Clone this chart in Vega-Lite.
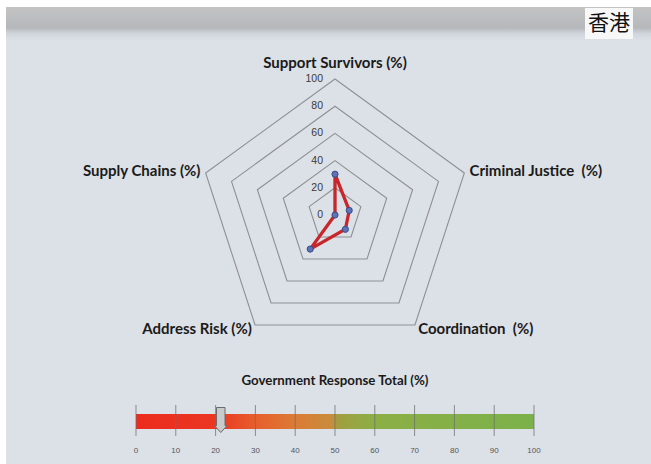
{
  "$schema": "https://vega.github.io/schema/vega-lite/v6.json",
  "width": 651,
  "height": 464,
  "autosize": {"type": "fit", "contains": "padding"},
  "padding": 0,
  "background": "#ffffff",
  "config": {"view": {"stroke": null}, "text": {"font": "Lato"}},
  "datasets": {
    "radar": [
      {"category": "Support Survivors (%)", "idx": 0, "value": 30},
      {"category": "Criminal Justice\u00a0 (%)", "idx": 1, "value": 11},
      {"category": "Coordination\u00a0 (%)", "idx": 2, "value": 13},
      {"category": "Address Risk (%)", "idx": 3, "value": 31},
      {"category": "Supply Chains (%)", "idx": 4, "value": 0}
    ],
    "rings": [
      {"level": 20, "k": [0, 1, 2, 3, 4]},
      {"level": 40, "k": [0, 1, 2, 3, 4]},
      {"level": 60, "k": [0, 1, 2, 3, 4]},
      {"level": 80, "k": [0, 1, 2, 3, 4]},
      {"level": 100, "k": [0, 1, 2, 3, 4]}
    ],
    "levels": [
      {"level": 0}, {"level": 20}, {"level": 40}, {"level": 60}, {"level": 80}, {"level": 100}
    ],
    "gaugeTicks": [
      {"v": 0}, {"v": 10}, {"v": 20}, {"v": 30}, {"v": 40}, {"v": 50},
      {"v": 60}, {"v": 70}, {"v": 80}, {"v": 90}, {"v": 100}
    ],
    "total": [{"label": "Government Response Total (%)", "value": 21.3}],
    "region": [{"name": "香港"}]
  },
  "layer": [
    {
      "data": {"name": "region"},
      "layer": [
        {
          "mark": {
            "type": "rect",
            "fill": {
              "gradient": "linear", "x1": 0, "y1": 0, "x2": 0, "y2": 1,
              "stops": [
                {"offset": 0, "color": "#ffffff"},
                {"offset": 0.015, "color": "#ffffff"},
                {"offset": 0.016, "color": "#c3c3c3"},
                {"offset": 0.06, "color": "#b6b8bb"},
                {"offset": 0.072, "color": "#d0d4db"},
                {"offset": 0.088, "color": "#dce0e7"},
                {"offset": 1, "color": "#dce0e7"}
              ]
            }
          },
          "encoding": {
            "x": {"datum": 6, "type": "quantitative", "scale": {"domain": [0, 651], "nice": false, "zero": false}, "axis": null},
            "x2": {"datum": 651},
            "y": {"datum": 0, "type": "quantitative", "scale": {"domain": [0, 464], "reverse": true, "nice": false, "zero": false}, "axis": null},
            "y2": {"datum": 464}
          }
        },
        {
          "mark": {"type": "rect", "fill": "#f7f7f7"},
          "encoding": {
            "x": {"datum": 585, "type": "quantitative", "scale": {"domain": [0, 651], "nice": false, "zero": false}, "axis": null},
            "x2": {"datum": 633},
            "y": {"datum": 8, "type": "quantitative", "scale": {"domain": [0, 464], "reverse": true, "nice": false, "zero": false}, "axis": null},
            "y2": {"datum": 39}
          }
        },
        {
          "mark": {"type": "text", "font": "Noto Sans CJK TC", "fontSize": 21, "color": "#111111", "align": "center", "baseline": "middle"},
          "encoding": {
            "x": {"datum": 609, "type": "quantitative", "scale": {"domain": [0, 651], "nice": false, "zero": false}, "axis": null},
            "y": {"datum": 24, "type": "quantitative", "scale": {"domain": [0, 464], "reverse": true, "nice": false, "zero": false}, "axis": null},
            "text": {"field": "name"}
          }
        }
      ]
    },
    {
      "encoding": {
        "x": {"field": "px", "type": "quantitative", "scale": {"domain": [-246.32, 232.35], "nice": false, "zero": false}, "axis": null},
        "y": {"field": "py", "type": "quantitative", "scale": {"domain": [-183.09, 158.09], "nice": false, "zero": false}, "axis": null}
      },
      "layer": [
        {
          "data": {"name": "rings"},
          "transform": [
            {"flatten": ["k"]},
            {"calculate": "PI / 2 - datum.k * 2 * PI / 5", "as": "theta"},
            {"calculate": "datum.level * cos(datum.theta)", "as": "px"},
            {"calculate": "datum.level * sin(datum.theta)", "as": "py"}
          ],
          "mark": {"type": "line", "interpolate": "linear-closed", "stroke": "#8e9093", "strokeWidth": 1.1},
          "encoding": {
            "order": {"field": "k", "type": "quantitative"},
            "detail": {"field": "level", "type": "nominal"}
          }
        },
        {
          "data": {"name": "levels"},
          "transform": [
            {"calculate": "0", "as": "px"},
            {"calculate": "datum.level", "as": "py"}
          ],
          "mark": {"type": "text", "align": "right", "baseline": "middle", "dx": -12, "fontSize": 10.5, "color": "#3a3a3a", "font": "Liberation Sans"},
          "encoding": {"text": {"field": "level", "type": "quantitative"}}
        },
        {
          "data": {"name": "radar"},
          "transform": [
            {"calculate": "PI / 2 - datum.idx * 2 * PI / 5", "as": "theta"},
            {"calculate": "datum.value * cos(datum.theta)", "as": "px"},
            {"calculate": "datum.value * sin(datum.theta)", "as": "py"}
          ],
          "mark": {"type": "line", "interpolate": "linear-closed", "stroke": "#c8262a", "strokeWidth": 3.3},
          "encoding": {"order": {"field": "idx", "type": "quantitative"}}
        },
        {
          "data": {"name": "radar"},
          "transform": [
            {"calculate": "PI / 2 - datum.idx * 2 * PI / 5", "as": "theta"},
            {"calculate": "datum.value * cos(datum.theta)", "as": "px"},
            {"calculate": "datum.value * sin(datum.theta)", "as": "py"}
          ],
          "mark": {"type": "point", "filled": true, "fill": "#5e72b8", "stroke": "#3b4a85", "strokeWidth": 1, "size": 38, "opacity": 1}
        },
        {
          "data": {"name": "radar"},
          "transform": [
            {"filter": "datum.idx == 0"},
            {"calculate": "PI / 2", "as": "theta"},
            {"calculate": "112 * cos(datum.theta)", "as": "px"},
            {"calculate": "112 * sin(datum.theta)", "as": "py"}
          ],
          "mark": {"type": "text", "align": "center", "baseline": "middle", "fontSize": 15, "fontWeight": "bold", "color": "#1a1a1a"},
          "encoding": {"text": {"field": "category"}}
        },
        {
          "data": {"name": "radar"},
          "transform": [
            {"filter": "datum.idx == 1 || datum.idx == 2"},
            {"calculate": "PI / 2 - datum.idx * 2 * PI / 5", "as": "theta"},
            {"calculate": "104 * cos(datum.theta)", "as": "px"},
            {"calculate": "104 * sin(datum.theta)", "as": "py"}
          ],
          "mark": {"type": "text", "align": "left", "baseline": "middle", "fontSize": 15, "fontWeight": "bold", "color": "#1a1a1a"},
          "encoding": {"text": {"field": "category"}}
        },
        {
          "data": {"name": "radar"},
          "transform": [
            {"filter": "datum.idx == 3 || datum.idx == 4"},
            {"calculate": "PI / 2 - datum.idx * 2 * PI / 5", "as": "theta"},
            {"calculate": "104 * cos(datum.theta)", "as": "px"},
            {"calculate": "104 * sin(datum.theta)", "as": "py"}
          ],
          "mark": {"type": "text", "align": "right", "baseline": "middle", "fontSize": 15, "fontWeight": "bold", "color": "#1a1a1a"},
          "encoding": {"text": {"field": "category"}}
        }
      ]
    },
    {
      "layer": [
        {
          "data": {"name": "total"},
          "mark": {"type": "text", "align": "center", "baseline": "middle", "fontSize": 13.3, "fontWeight": "bold", "color": "#1a1a1a"},
          "encoding": {
            "x": {"datum": 50, "type": "quantitative", "scale": {"domain": [-34.17, 129.4], "nice": false, "zero": false}, "axis": null},
            "y": {"datum": 381, "type": "quantitative", "scale": {"domain": [0, 464], "reverse": true, "nice": false, "zero": false}, "axis": null},
            "text": {"field": "label"}
          }
        },
        {
          "data": {"name": "total"},
          "mark": {
            "type": "rect",
            "fill": {
              "gradient": "linear", "x1": 0, "y1": 0, "x2": 1, "y2": 0,
              "stops": [
                {"offset": 0, "color": "#ec2c1e"},
                {"offset": 0.2, "color": "#eb3622"},
                {"offset": 0.3, "color": "#e75e2c"},
                {"offset": 0.4, "color": "#dc7b35"},
                {"offset": 0.49, "color": "#c98c3c"},
                {"offset": 0.51, "color": "#a09f40"},
                {"offset": 0.6, "color": "#8caf45"},
                {"offset": 1, "color": "#7bb14a"}
              ]
            }
          },
          "encoding": {
            "x": {"datum": 0, "type": "quantitative", "scale": {"domain": [-34.17, 129.4], "nice": false, "zero": false}, "axis": null},
            "x2": {"datum": 100},
            "y": {"datum": 414, "type": "quantitative", "scale": {"domain": [0, 464], "reverse": true, "nice": false, "zero": false}, "axis": null},
            "y2": {"datum": 429}
          }
        },
        {
          "data": {"name": "gaugeTicks"},
          "mark": {"type": "rule", "stroke": "#6e6e6e", "strokeWidth": 1, "opacity": 0.75},
          "encoding": {
            "x": {"field": "v", "type": "quantitative", "scale": {"domain": [-34.17, 129.4], "nice": false, "zero": false}, "axis": null},
            "y": {"datum": 405, "type": "quantitative", "scale": {"domain": [0, 464], "reverse": true, "nice": false, "zero": false}, "axis": null},
            "y2": {"datum": 436}
          }
        },
        {
          "data": {"name": "gaugeTicks"},
          "mark": {"type": "text", "align": "center", "baseline": "middle", "fontSize": 8, "color": "#555555", "font": "Liberation Sans"},
          "encoding": {
            "x": {"field": "v", "type": "quantitative", "scale": {"domain": [-34.17, 129.4], "nice": false, "zero": false}, "axis": null},
            "y": {"datum": 451, "type": "quantitative", "scale": {"domain": [0, 464], "reverse": true, "nice": false, "zero": false}, "axis": null},
            "text": {"field": "v", "type": "quantitative"}
          }
        },
        {
          "data": {"name": "total"},
          "mark": {
            "type": "point",
            "filled": true,
            "shape": "M -0.34 -1 L 0.34 -1 L 0.34 0.45 L 0.5 0.45 L 0 1 L -0.5 0.45 L -0.34 0.45 Z",
            "size": 625,
            "fill": "#c9cacc",
            "stroke": "#6a6a6a",
            "strokeWidth": 1,
            "opacity": 1
          },
          "encoding": {
            "x": {"field": "value", "type": "quantitative", "scale": {"domain": [-34.17, 129.4], "nice": false, "zero": false}, "axis": null},
            "y": {"datum": 420, "type": "quantitative", "scale": {"domain": [0, 464], "reverse": true, "nice": false, "zero": false}, "axis": null}
          }
        }
      ]
    }
  ],
  "resolve": {"scale": {"x": "independent", "y": "independent"}}
}
